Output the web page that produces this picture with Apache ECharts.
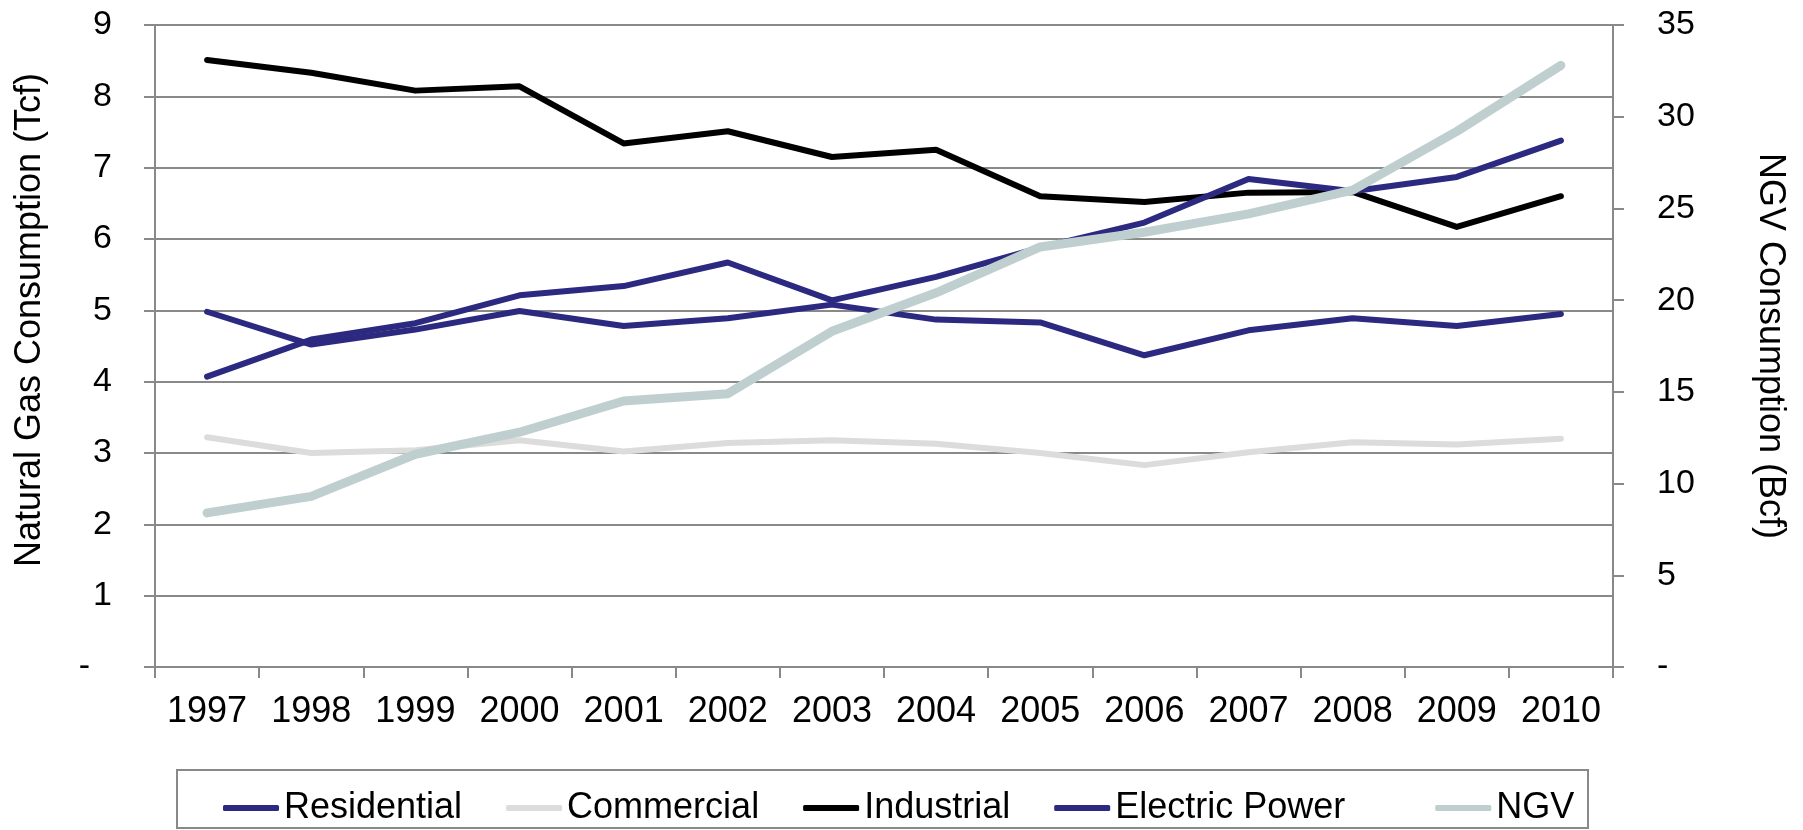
<!DOCTYPE html>
<html>
<head>
<meta charset="utf-8">
<title>Natural Gas Consumption by Sector and NGV Consumption, 1997-2010</title>
<script src="https://cdn.jsdelivr.net/npm/echarts@6/dist/echarts.min.js"></script>
<style>
  html, body { margin: 0; padding: 0; background: #ffffff; }
  #chart { width: 1803px; height: 830px; }
</style>
</head>
<body>
<div id="chart"></div>
<script>
// Years on the category axis
const years = ['1997', '1998', '1999', '2000', '2001', '2002', '2003', '2004', '2005', '2006', '2007', '2008', '2009', '2010'];

// Sector consumption, trillion cubic feet (left axis)
const residential = [4.98, 4.52, 4.73, 4.99, 4.78, 4.89, 5.08, 4.87, 4.83, 4.37, 4.72, 4.89, 4.78, 4.95];
const commercial = [3.22, 3.00, 3.04, 3.18, 3.02, 3.14, 3.18, 3.13, 3.00, 2.83, 3.01, 3.15, 3.12, 3.20];
const industrial = [8.51, 8.33, 8.08, 8.14, 7.34, 7.51, 7.15, 7.25, 6.60, 6.52, 6.65, 6.66, 6.17, 6.60];
const electricPower = [4.07, 4.59, 4.82, 5.21, 5.34, 5.67, 5.14, 5.47, 5.88, 6.23, 6.84, 6.67, 6.87, 7.38];

// Natural gas vehicle consumption, billion cubic feet (right axis)
const ngv = [8.4, 9.3, 11.6, 12.8, 14.5, 14.9, 18.3, 20.4, 22.9, 23.7, 24.7, 26.0, 29.2, 32.8];

// Axis ranges
const leftAxisRange = { min: 0, max: 9, interval: 1 };
const rightAxisRange = { min: 0, max: 35, interval: 5 };

const FONT = "'Liberation Sans', Arial, Helvetica, sans-serif";
const AXIS_GRAY = '#898989';
const NAVY = '#2b2a80';

const chart = echarts.init(document.getElementById('chart'), null, { renderer: 'canvas' });

function zeroDash(v) {
  return v === 0 ? '{d|-}' : String(v);
}

const seriesDefs = [
  { name: 'Residential', data: residential, color: NAVY, width: 6, axis: 0 },
  { name: 'Commercial', data: commercial, color: '#dcdcdc', width: 6, axis: 0 },
  { name: 'Industrial', data: industrial, color: '#000000', width: 6, axis: 0 },
  { name: 'Electric Power', data: electricPower, color: NAVY, width: 6, axis: 0 },
  { name: 'NGV', data: ngv, color: '#bfcfd0', width: 9, axis: 1 }
];

const legendText = { fontFamily: FONT, fontSize: 36, color: '#000', lineHeight: 36 };

const option = {
  backgroundColor: '#ffffff',
  animation: false,
  textStyle: { fontFamily: FONT },
  grid: { left: 155, right: 190, top: 25, bottom: 163, containLabel: false, outerBoundsMode: 'none' },
  legend: {
    orient: 'horizontal',
    left: 223,
    top: 790,
    padding: 0,
    itemWidth: 56,
    itemHeight: 6,
    itemGap: 44,
    icon: 'roundRect',
    selectedMode: false,
    data: seriesDefs.map((s) => s.name),
    formatter: (name) => (name === 'Electric Power' ? '{wide|' + name + '}' : name),
    textStyle: Object.assign({}, legendText, {
      rich: { wide: Object.assign({}, legendText, { padding: [0, 46, 0, 0] }) }
    })
  },
  graphic: [{
    type: 'rect',
    shape: { x: 177, y: 770, width: 1411, height: 58 },
    style: { fill: 'none', stroke: AXIS_GRAY, lineWidth: 2 },
    z: -1
  }],
  xAxis: {
    type: 'category',
    data: years,
    boundaryGap: true,
    axisLine: { show: true, lineStyle: { color: AXIS_GRAY, width: 2 } },
    axisTick: { show: true, length: 11, alignWithLabel: false, interval: 0, lineStyle: { color: AXIS_GRAY, width: 2 } },
    axisLabel: { interval: 0, color: '#000', fontFamily: FONT, fontSize: 36, lineHeight: 36, margin: 27 },
    splitLine: { show: false }
  },
  yAxis: [
    {
      type: 'value',
      position: 'left',
      min: leftAxisRange.min,
      max: leftAxisRange.max,
      interval: leftAxisRange.interval,
      name: 'Natural Gas Consumption (Tcf)',
      nameLocation: 'middle',
      nameRotate: 90,
      nameGap: 107,
      nameTextStyle: { fontFamily: FONT, fontSize: 36, lineHeight: 36, color: '#000', padding: [0, 0, 0, 52] },
      axisLine: { show: true, lineStyle: { color: AXIS_GRAY, width: 2 } },
      axisTick: { show: true, length: 11, lineStyle: { color: AXIS_GRAY, width: 2 } },
      axisLabel: {
        color: '#000', fontFamily: FONT, fontSize: 34, margin: 43,
        formatter: zeroDash,
        rich: { d: { fontFamily: FONT, fontSize: 34, color: '#000', padding: [0, 22, 0, 0] } }
      },
      splitLine: { show: true, lineStyle: { color: AXIS_GRAY, width: 2 } }
    },
    {
      type: 'value',
      position: 'right',
      min: rightAxisRange.min,
      max: rightAxisRange.max,
      interval: rightAxisRange.interval,
      name: 'NGV Consumption (Bcf)',
      nameLocation: 'middle',
      nameRotate: -90,
      nameGap: 139,
      nameTextStyle: { fontFamily: FONT, fontSize: 36, lineHeight: 36, color: '#000' },
      axisLine: { show: true, lineStyle: { color: AXIS_GRAY, width: 2 } },
      axisTick: { show: true, length: 11, lineStyle: { color: AXIS_GRAY, width: 2 } },
      axisLabel: {
        color: '#000', fontFamily: FONT, fontSize: 34, margin: 44,
        formatter: zeroDash,
        rich: { d: { fontFamily: FONT, fontSize: 34, color: '#000' } }
      },
      splitLine: { show: false }
    }
  ],
  series: seriesDefs.map((s) => ({
    name: s.name,
    type: 'line',
    yAxisIndex: s.axis,
    data: s.data,
    symbol: 'none',
    showSymbol: false,
    smooth: false,
    color: s.color,
    lineStyle: { color: s.color, width: s.width, cap: 'round', join: 'round' },
    itemStyle: { color: s.color },
    emphasis: { disabled: true }
  }))
};

chart.setOption(option);
</script>
</body>
</html>
